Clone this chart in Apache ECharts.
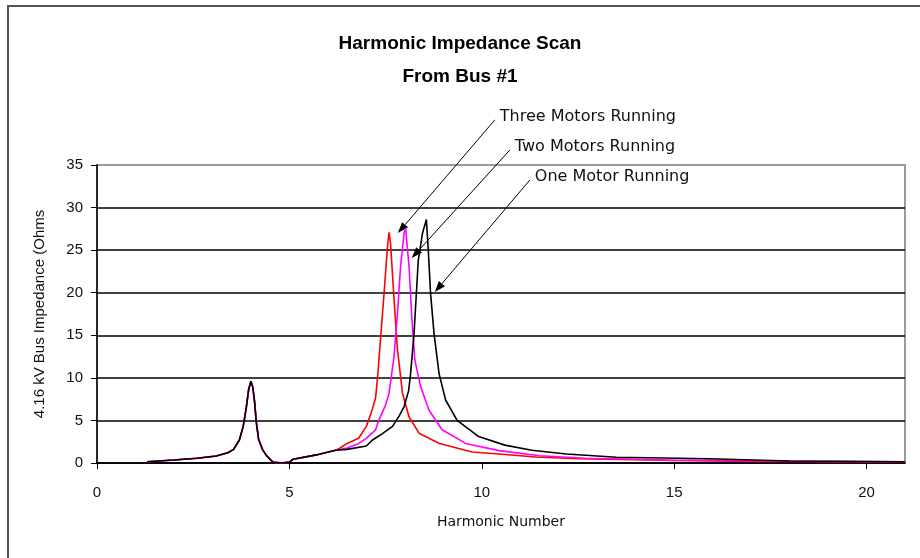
<!DOCTYPE html>
<html>
<head>
<meta charset="utf-8">
<script src="https://cdn.jsdelivr.net/npm/echarts@6/dist/echarts.min.js"></script>
<style>
  html, body { margin: 0; padding: 0; background: #fff; }
  #scan { width: 920px; height: 558px; }
</style>
</head>
<body>
<div id="scan"></div>
<script>
// shared low-order part of all three scans (harmonic, ohms)
const commonPart = [
  [1.3, 0.15], [2.0, 0.35], [2.6, 0.55], [3.1, 0.82], [3.4, 1.2], [3.55, 1.6],
  [3.7, 2.7], [3.8, 4.3], [3.88, 6.5], [3.94, 8.6], [4.0, 9.6], [4.05, 8.9],
  [4.1, 7.0], [4.14, 4.8], [4.2, 2.8], [4.3, 1.6], [4.4, 0.9], [4.57, 0.1],
  [4.8, 0], [5.0, 0.1], [5.1, 0.45], [5.7, 0.95], [6.2, 1.5]
];
const threeMotors = [
  [6.3, 1.7], [6.5, 2.3], [6.8, 2.9], [7.0, 4.3], [7.12, 5.8], [7.24, 7.6],
  [7.3, 10.5], [7.38, 15.2], [7.46, 19.9], [7.55, 25.4], [7.59, 27.1], [7.63, 25.8],
  [7.72, 19.2], [7.81, 13.3], [7.94, 8.2], [8.11, 5.4], [8.37, 3.5], [8.9, 2.3],
  [9.75, 1.3], [10.45, 1.06], [11.4, 0.7], [12.5, 0.5], [13.6, 0.43], [15.0, 0.3],
  [16.9, 0.17], [21.0, 0.15]
];
const twoMotors = [
  [6.5, 1.75], [6.8, 2.3], [7.0, 2.9], [7.24, 3.9], [7.33, 5.1], [7.5, 6.8],
  [7.59, 8.2], [7.72, 12.5], [7.81, 17.6], [7.89, 23.1], [7.98, 27.0], [8.02, 27.6],
  [8.11, 23.1], [8.18, 17.2], [8.26, 12.1], [8.41, 9.0], [8.63, 6.2], [8.97, 3.9],
  [9.58, 2.3], [10.45, 1.45], [11.5, 0.85], [12.7, 0.55], [14.8, 0.35], [18.0, 0.22],
  [21.0, 0.15]
];
const oneMotor = [
  [6.5, 1.6], [7.0, 2.0], [7.16, 2.7], [7.4, 3.4], [7.68, 4.3], [7.85, 5.5],
  [7.98, 6.6], [8.1, 8.5], [8.15, 10.5], [8.24, 15.2], [8.3, 19.9], [8.35, 23.8],
  [8.46, 27.0], [8.56, 28.6], [8.61, 25.0], [8.67, 19.9], [8.76, 15.2], [8.89, 10.5],
  [9.06, 7.4], [9.36, 5.0], [9.92, 3.1], [10.6, 2.1], [11.3, 1.5], [12.2, 1.06],
  [13.5, 0.67], [15.9, 0.5], [18.0, 0.23], [21.0, 0.15]
];
const seriesNames = ['Three Motors Running', 'Two Motors Running', 'One Motor Running'];
const xTicks = [0, 5, 10, 15, 20];

const chartDom = document.getElementById('scan');
const myChart = echarts.init(chartDom);
const font = '"Liberation Sans", Arial, sans-serif';
const wideFont = '"DejaVu Sans", "Liberation Sans", sans-serif';

const option = {
  animation: false,
  textStyle: { fontFamily: font },
  title: {
    text: 'Harmonic Impedance Scan\nFrom Bus #1',
    left: 'center',
    top: 22,
    textStyle: { fontSize: 19, fontWeight: 'bold', color: '#000', lineHeight: 33 }
  },
  grid: {
    left: 97, right: 15, top: 165, bottom: 95,
    show: true, borderColor: '#9a9a9a', borderWidth: 2
  },
  xAxis: {
    type: 'value',
    min: 0, max: 21, interval: 5,
    name: 'Harmonic Number',
    nameLocation: 'middle',
    nameGap: 52,
    nameTextStyle: { fontSize: 14, color: '#111', fontFamily: wideFont },
    axisLine: { lineStyle: { color: '#000', width: 1.5 } },
    axisTick: { length: 6, lineStyle: { color: '#000' } },
    axisLabel: {
      margin: 22, fontSize: 15, color: '#111', showMaxLabel: false,
      formatter: v => (xTicks.indexOf(v) >= 0 ? String(v) : '')
    },
    splitLine: { show: false }
  },
  yAxis: {
    type: 'value',
    min: 0, max: 35, interval: 5,
    name: '4.16 kV Bus Impedance (Ohms',
    nameLocation: 'middle',
    nameGap: 50,
    nameRotate: 90,
    nameTextStyle: { fontSize: 15, color: '#111' },
    axisLine: { show: true, lineStyle: { color: '#000', width: 1.5 } },
    axisTick: { show: true, length: 6, lineStyle: { color: '#000' } },
    axisLabel: { margin: 14, fontSize: 15, color: '#111' },
    splitLine: { show: true, showMaxLine: false, lineStyle: { color: '#000', width: 1.5 } }
  },
  series: [
    { name: seriesNames[0], type: 'line', data: commonPart.concat(threeMotors), color: '#ff0000' },
    { name: seriesNames[1], type: 'line', data: commonPart.concat(twoMotors), color: '#ff00ff' },
    { name: seriesNames[2], type: 'line', data: commonPart.concat(oneMotor), color: '#000000' }
  ].map(s => Object.assign(s, {
    showSymbol: false,
    symbol: 'none',
    lineStyle: { width: 1.6 }
  }))
};
myChart.setOption(option);

// callout arrows: [text anchor (harmonic, ohms), arrow tip (harmonic, ohms)]
const callouts = [
  [[10.34, 40.3], [7.82, 27.0]],
  [[10.73, 36.76], [8.18, 24.07]],
  [[11.25, 33.24], [8.78, 20.08]]
];
const graphics = [{
  type: 'rect',
  shape: { x: 8, y: 6, width: 1000, height: 1000 },
  style: { fill: 'none', stroke: '#555', lineWidth: 2 },
  silent: true
}];
callouts.forEach(function (c, i) {
  const p0 = myChart.convertToPixel({ gridIndex: 0 }, c[0]);
  const p1 = myChart.convertToPixel({ gridIndex: 0 }, c[1]);
  const dx = p1[0] - p0[0], dy = p1[1] - p0[1];
  const len = Math.sqrt(dx * dx + dy * dy);
  const ux = dx / len, uy = dy / len;
  const hl = 11, hw = 4;
  const bx = p1[0] - ux * hl, by = p1[1] - uy * hl;
  graphics.push({
    type: 'line',
    shape: { x1: p0[0], y1: p0[1], x2: bx, y2: by },
    style: { stroke: '#000', lineWidth: 1 },
    silent: true
  });
  graphics.push({
    type: 'polygon',
    shape: { points: [[p1[0], p1[1]], [bx - uy * hw, by + ux * hw], [bx + uy * hw, by - ux * hw]] },
    style: { fill: '#000' },
    silent: true
  });
  graphics.push({
    type: 'text',
    x: p0[0] + 5,
    y: p0[1] - 3,
    style: {
      text: seriesNames[i], fontSize: 16, fontFamily: wideFont, fill: '#111',
      verticalAlign: 'middle', align: 'left'
    },
    silent: true
  });
});
myChart.setOption({ graphic: graphics });

window.addEventListener('resize', function () {
  myChart.resize();
});
</script>
</body>
</html>
